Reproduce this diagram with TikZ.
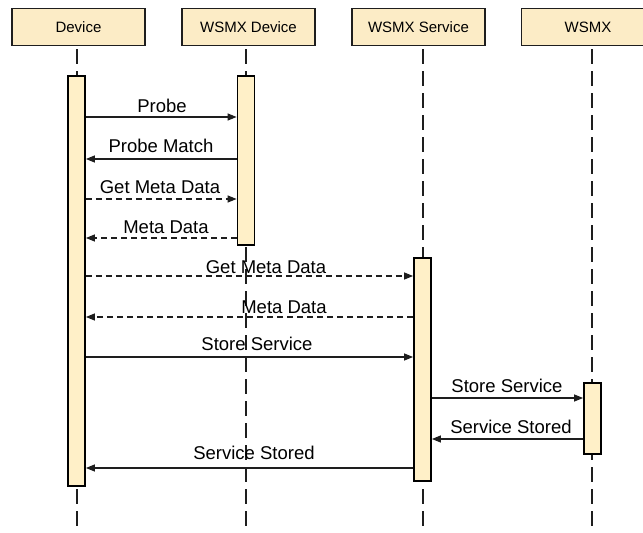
\documentclass[tikz,border=0pt]{standalone}
\usepackage{fontspec}
\setmainfont{Liberation Sans}
\usetikzlibrary{arrows.meta}
\definecolor{boxfill}{HTML}{FFF0C8}
\definecolor{hdrfill}{HTML}{FCECC6}
\definecolor{lineclr}{HTML}{1E1E1E}
\begin{document}
\begin{tikzpicture}[x=1pt,y=-1pt,
  header/.style={draw=lineclr, line width=1.2pt, fill=hdrfill, minimum width=133pt, minimum height=37pt, inner sep=0pt, font=\fontsize{15}{17}\selectfont},
  actbar/.style={draw=black, line width=1.8pt, fill=boxfill, minimum width=17pt, inner sep=0pt},
  lifeline/.style={draw=lineclr, line width=1.3pt, dash pattern=on 15pt off 7pt},
  msg/.style={draw=lineclr, line width=1.2pt, -{Triangle[length=9pt,width=7pt]}},
  reply/.style={msg, dash pattern=on 6pt off 4pt},
  lbl/.style={anchor=base, inner sep=0pt, text=black, font=\fontsize{18.5}{20}\selectfont}]
\useasboundingbox (0,0) rectangle (643,533);
\clip (0,0) rectangle (643,533);
\fill[white] (0,0) rectangle (643,533);

% headers
\node[header] (hdev) at (78.5,27) {Device};
\node[header] (hwd) at (248.5,27) {WSMX Device};
\node[header] (hws) at (418.5,27) {WSMX Service};
\node[header] (hw) at (588,27) {WSMX};

% lifelines
\coordinate (L1top) at (77,49);  \coordinate (L1bot) at (77,533);
\coordinate (L2top) at (246,49); \coordinate (L2bot) at (246,533);
\coordinate (L3top) at (423,49); \coordinate (L3bot) at (423,533);
\coordinate (L4top) at (592,49); \coordinate (L4bot) at (592,533);
\draw[lifeline] (L1top) -- (L1bot);
\draw[lifeline] (L2top) -- (L2bot);
\draw[lifeline] (L3top) -- (L3bot);
\draw[lifeline] (L4top) -- (L4bot);

% activation bars
\node[actbar, minimum height=410pt] (b1) at (76.5,281) {};
\node[actbar, minimum height=169pt] (b2) at (246,160.5) {};
\node[actbar, minimum height=223pt] (b3) at (422.5,369.5) {};
\node[actbar, minimum height=71pt] (b4) at (592.5,418.5) {};

% message levels
\coordinate (m1) at (0,117);
\coordinate (m2) at (0,159);
\coordinate (m3) at (0,199);
\coordinate (m4) at (0,238);
\coordinate (m5) at (0,276);
\coordinate (m6) at (0,317);
\coordinate (m7) at (0,357);
\coordinate (m8) at (0,398);
\coordinate (m9) at (0,439);
\coordinate (m10) at (0,468);

\draw[msg]   (b1.east |- m1) -- (b2.west |- m1);
\draw[msg]   (b2.west |- m2) -- (b1.east |- m2);
\draw[reply] (b1.east |- m3) -- (b2.west |- m3);
\draw[reply] (b2.west |- m4) -- (b1.east |- m4);
\draw[reply] (b1.east |- m5) -- (b3.west |- m5);
\draw[reply] (b3.west |- m6) -- (b1.east |- m6);
\draw[msg]   (b1.east |- m7) -- (b3.west |- m7);
\draw[msg]   (b3.east |- m8) -- (b4.west |- m8);
\draw[msg]   (b4.west |- m9) -- (b3.east |- m9);
\draw[msg]   (b3.west |- m10) -- (b1.east |- m10);

% labels
\node[lbl] (t1) at (162,112) {Probe};
\node[lbl] (t2) at (161,152) {Probe Match};
\node[lbl] (t3) at (160,193) {Get Meta Data};
\node[lbl] (t4) at (166,233) {Meta Data};
\node[lbl] (t5) at (266,273) {Get Meta Data};
\node[lbl] (t6) at (284,313) {Meta Data};
\node[lbl] (t7) at (257,350) {Store Service};
\node[lbl] (t8) at (507,392) {Store Service};
\node[lbl] (t9) at (511,433) {Service Stored};
\node[lbl] (t10) at (254,459) {Service Stored};
\end{tikzpicture}
\end{document}
